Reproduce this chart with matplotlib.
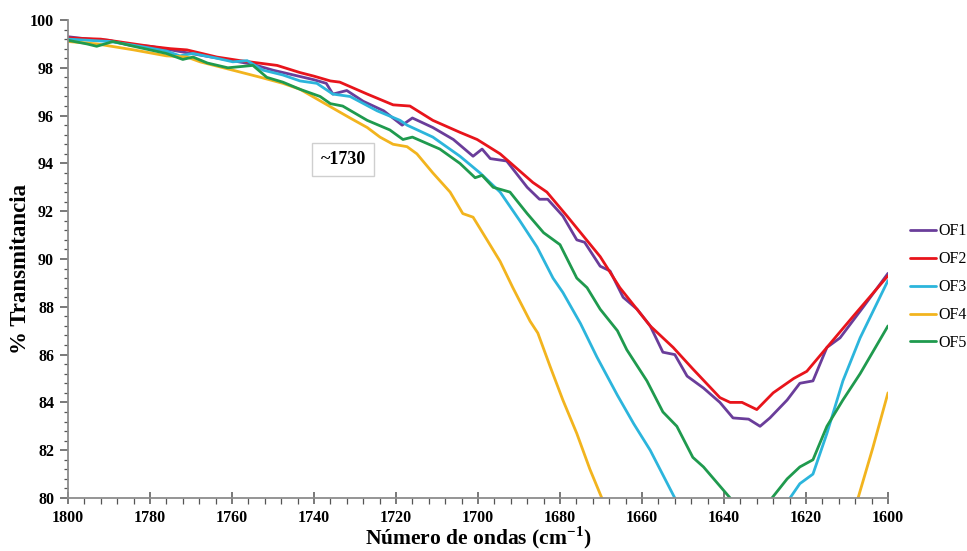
import numpy as np
import matplotlib
matplotlib.use("Agg")
import matplotlib.pyplot as plt

plt.rcParams['font.family'] = ['Liberation Serif', 'DejaVu Serif']
plt.rcParams['mathtext.fontset'] = 'custom'
plt.rcParams['mathtext.rm'] = 'Liberation Serif'
plt.rcParams['mathtext.bf'] = 'Liberation Serif:bold'

# OF1
x_of1 = [1800, 1795, 1790, 1785, 1780, 1775, 1770, 1765, 1760, 1755, 1750, 1745, 1740, 1737,
         1735.4, 1732, 1728, 1723, 1718.5, 1716, 1711, 1706, 1701.2, 1699, 1697, 1693, 1688,
         1685, 1683, 1679.3, 1675.9, 1674, 1670.2, 1667.8, 1664.6, 1661.2, 1658, 1654.9, 1652,
         1649, 1645, 1641, 1637.8, 1634, 1631.2, 1628.8, 1624.6, 1621.5, 1618.3, 1614.9,
         1611.7, 1606, 1600]
y_of1 = [99.3, 99.2, 99.15, 98.95, 98.9, 98.75, 98.6, 98.45, 98.3, 98.15, 97.9, 97.7, 97.5, 97.35,
         96.9, 97.05, 96.6, 96.2, 95.6, 95.9, 95.5, 95.0, 94.3, 94.6, 94.2, 94.1, 93.0,
         92.5, 92.5, 91.8, 90.8, 90.7, 89.7, 89.5, 88.4, 87.9, 87.2, 86.1, 86.0,
         85.1, 84.6, 84.0, 83.35, 83.3, 83.0, 83.35, 84.1, 84.8, 84.9, 86.3,
         86.7, 88.0, 89.4]

# OF2
x_of2 = [1800, 1792, 1788, 1780, 1775, 1771, 1763.7, 1758, 1749, 1743.4, 1740, 1736, 1733.7,
         1727, 1720.7, 1716.6, 1711, 1704.4, 1700.2, 1694.6, 1686.6, 1683.2, 1678.3, 1670.2,
         1665.4, 1658, 1652.4, 1647.6, 1641, 1638.5, 1635.6, 1632, 1628, 1623, 1619.8, 1614.9,
         1608.5, 1600]
y_of2 = [99.25, 99.2, 99.1, 98.9, 98.8, 98.75, 98.45, 98.3, 98.1, 97.8, 97.65, 97.45, 97.4,
         96.9, 96.45, 96.4, 95.8, 95.3, 95.0, 94.4, 93.2, 92.8, 91.8, 90.1,
         88.8, 87.2, 86.3, 85.4, 84.2, 84.0, 84.0, 83.7, 84.4, 85.0, 85.3, 86.3,
         87.6, 89.3]

# OF3
x_of3 = [1800, 1795, 1789.8, 1782.4, 1776, 1772.7, 1769.5, 1763.7, 1759.8, 1756.3, 1752.4,
         1747.6, 1743.4, 1739.3, 1735.4, 1731.2, 1724.6, 1719, 1717.3, 1711, 1704.4, 1699.5,
         1694.6, 1689.8, 1685.6, 1681.7, 1679.3, 1675, 1671, 1666, 1662, 1658, 1652, 1650.5,
         1624.5, 1623.9, 1621.5, 1618.3, 1614.9, 1611, 1606.8, 1600]
y_of3 = [99.2, 99.15, 99.1, 98.9, 98.7, 98.5, 98.6, 98.4, 98.25, 98.3, 97.9,
         97.7, 97.45, 97.35, 96.9, 96.8, 96.2, 95.8, 95.6, 95.1, 94.3, 93.6,
         92.8, 91.6, 90.5, 89.2, 88.6, 87.3, 85.9, 84.3, 83.1, 82.0, 80.0, 79.5,
         79.5, 80.0, 80.6, 81.0, 82.7, 84.9, 86.7, 89.1]

# OF4
x_of4 = [1800, 1793, 1784, 1776, 1771, 1767.8, 1759.8, 1753, 1747.6, 1743.4, 1736.8, 1731.2,
         1727, 1723.9, 1720.7, 1717.3, 1714.9, 1711, 1706.8, 1703.7, 1701.2, 1697.8, 1694.6,
         1691.5, 1687.3, 1685.4, 1682.4, 1679.3, 1675.9, 1672.7, 1669.8, 1669,
         1608, 1607.3, 1603.7, 1600]
y_of4 = [99.1, 99.0, 98.75, 98.5, 98.45, 98.25, 97.9, 97.6, 97.35, 97.1, 96.45, 95.9,
         95.5, 95.1, 94.8, 94.7, 94.4, 93.6, 92.8, 91.9, 91.75, 90.8, 89.9,
         88.8, 87.4, 86.9, 85.5, 84.1, 82.7, 81.2, 80.0, 79.5,
         79.5, 80.0, 82.1, 84.4]

# OF5
x_of5 = [1800, 1795.4, 1793, 1789, 1784, 1776, 1772, 1769.5, 1766, 1761, 1754.9, 1751.5,
         1747.6, 1743.4, 1738.5, 1736, 1733, 1727, 1721.5, 1718.3, 1716, 1709.3, 1704.4,
         1700.7, 1699, 1696.3, 1692.2, 1688, 1684, 1680, 1675.9, 1673.4, 1670.2, 1666,
         1663.7, 1658.8, 1654.9, 1651.5, 1647.6, 1645, 1641, 1638.5, 1637.5,
         1629, 1628.3, 1624.6, 1621.5, 1618.3, 1614.9, 1611, 1606.8, 1600]
y_of5 = [99.15, 99.0, 98.9, 99.1, 98.9, 98.6, 98.35, 98.45, 98.2, 98.0, 98.1, 97.6,
         97.4, 97.1, 96.8, 96.5, 96.4, 95.8, 95.4, 95.0, 95.1, 94.6, 94.0,
         93.4, 93.5, 93.0, 92.8, 91.9, 91.1, 90.6, 89.2, 88.8, 87.9, 87.0,
         86.2, 84.9, 83.6, 83.0, 81.7, 81.3, 80.5, 80.0, 79.6,
         79.6, 80.0, 80.8, 81.3, 81.6, 83.0, 84.1, 85.2, 87.2]

series = [
    ("OF1", x_of1, y_of1, "#6a3d9a"),
    ("OF2", x_of2, y_of2, "#e8141b"),
    ("OF3", x_of3, y_of3, "#2cb5dc"),
    ("OF4", x_of4, y_of4, "#f2b41e"),
    ("OF5", x_of5, y_of5, "#1f9a4e"),
]

fig = plt.figure(figsize=(9.67, 5.51), dpi=100)
ax = fig.add_axes([0.0703, 0.0962, 0.848, 0.8675])

for name, xs, ys, col in series:
    ax.plot(xs, ys, color=col, lw=2.0, label=name, solid_capstyle='round', solid_joinstyle='round')

ax.set_xlim(1800, 1600)
ax.set_ylim(80, 100)
ax.set_xticks(np.arange(1800, 1599, -20))
ax.set_xticks(np.arange(1800, 1599, -4), minor=True)
ax.set_yticks(np.arange(80, 101, 2))
ax.set_yticks(np.arange(80, 100.01, 0.4), minor=True)

for s in ['top', 'right']:
    ax.spines[s].set_visible(False)
for s in ['left', 'bottom']:
    ax.spines[s].set_color('#8c8c8c')
    ax.spines[s].set_linewidth(1.3)

ax.tick_params(axis='x', which='major', direction='inout', length=9, width=1.1, color='#555555')
ax.tick_params(axis='x', which='minor', direction='out', length=4, width=0.9, color='#555555')
ax.tick_params(axis='y', which='major', direction='out', length=6, width=1.1, color='#555555')
ax.tick_params(axis='y', which='minor', direction='out', length=3, width=0.9, color='#555555')
ax.tick_params(axis='both', labelsize=11.5, pad=4)
for lab in ax.get_xticklabels() + ax.get_yticklabels():
    lab.set_fontweight('bold')

ax.set_xlabel(r'Número de ondas (cm$^{\mathbf{-1}}$)', fontsize=15.5, fontweight='bold', labelpad=-1)
ax.set_ylabel('% Transmitancia', fontsize=16.5, fontweight='bold')
ax.yaxis.set_label_coords(-0.045, 0.48)

ax.text(1732.9, 94.15, '~1730', ha='center', va='center', fontsize=13, fontweight='bold',
        bbox=dict(boxstyle='square,pad=0.45', fc='white', ec='#cfcfcf', lw=1))

fig.legend(loc='upper left', bbox_to_anchor=(0.941, 0.595), frameon=False, fontsize=11.5,
           handlelength=1.6, handletextpad=0.15, labelspacing=0.75, borderpad=0, borderaxespad=0)

fig.savefig('out.png', dpi=100)
